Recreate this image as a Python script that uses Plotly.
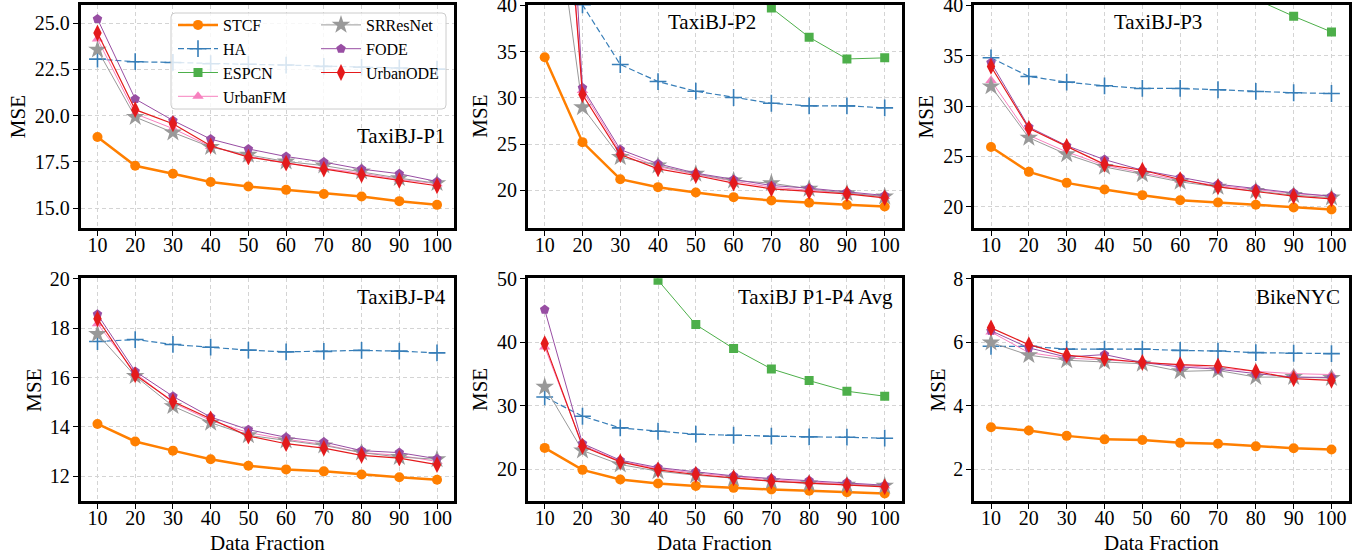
import plotly.graph_objects as go

W, H = 1369, 559
FONT = "Liberation Serif, Times New Roman, serif"

fractions = [10, 20, 30, 40, 50, 60, 70, 80, 90, 100]
methods = ["STCF", "HA", "ESPCN", "UrbanFM", "SRResNet", "FODE", "UrbanODE"]

# ---- TaxiBJ-P1 ----
p1_stcf = [18.84, 17.29, 16.86, 16.41, 16.17, 15.99, 15.77, 15.63, 15.38, 15.18]
p1_ha = [23.05, 22.91, 22.87, 22.80, 22.77, 22.73, 22.66, 22.62, 22.57, 22.51]
p1_espcn = [110, 80, 60, 47, 40, 36, 33, 32, 31, 30]
p1_urbanfm = [24.14, 20.10, 19.30, 18.33, 17.80, 17.44, 17.16, 16.89, 16.56, 16.32]
p1_srresnet = [23.56, 19.92, 19.09, 18.30, 17.88, 17.52, 17.30, 16.98, 16.62, 16.35]
p1_fode = [25.22, 20.90, 19.74, 18.73, 18.20, 17.79, 17.49, 17.11, 16.86, 16.44]
p1_urbanode = [24.46, 20.32, 19.56, 18.37, 17.76, 17.43, 17.11, 16.80, 16.50, 16.21]

# ---- TaxiBJ-P2 ----
p2_stcf = [34.39, 25.22, 21.22, 20.36, 19.78, 19.28, 18.92, 18.67, 18.45, 18.27]
p2_ha = [50.0, 40.05, 33.60, 31.76, 30.72, 30.04, 29.42, 29.14, 29.14, 28.92]
p2_espcn = [130, 90, 70, 55, 47, 42.5, 39.71, 36.55, 34.20, 34.32]
p2_urbanfm = [82, 30.80, 24.14, 22.59, 21.73, 21.00, 20.36, 20.07, 19.71, 19.35]
p2_srresnet = [59, 28.99, 23.60, 22.70, 21.80, 21.08, 20.79, 20.18, 19.71, 19.35]
p2_fode = [103, 31.08, 24.42, 22.88, 21.87, 21.19, 20.54, 20.25, 19.82, 19.46]
p2_urbanode = [83, 30.36, 23.88, 22.34, 21.62, 20.79, 20.18, 19.89, 19.64, 19.21]

# ---- TaxiBJ-P3 ----
p3_stcf = [25.94, 23.47, 22.38, 21.72, 21.16, 20.66, 20.43, 20.20, 19.93, 19.74]
p3_ha = [34.79, 32.94, 32.38, 32.01, 31.75, 31.75, 31.62, 31.45, 31.32, 31.25]
p3_espcn = [140, 95, 72, 57, 50, 46, 43, 40.6, 38.91, 37.36]
p3_urbanfm = [32.54, 27.10, 25.45, 24.13, 23.37, 22.64, 22.11, 21.72, 21.32, 21.06]
p3_srresnet = [31.95, 26.86, 25.21, 23.96, 23.23, 22.48, 21.98, 21.58, 21.16, 20.92]
p3_fode = [34.32, 27.92, 26.07, 24.69, 23.63, 22.90, 22.24, 21.82, 21.39, 21.06]
p3_urbanode = [33.93, 27.79, 26.00, 24.22, 23.63, 22.71, 21.98, 21.49, 21.06, 20.79]

# ---- TaxiBJ-P4 ----
p4_stcf = [14.12, 13.41, 13.04, 12.69, 12.43, 12.28, 12.20, 12.07, 11.96, 11.86]
p4_ha = [17.46, 17.54, 17.34, 17.23, 17.11, 17.04, 17.06, 17.10, 17.07, 17.00]
p4_espcn = [90, 65, 50, 40, 34, 31.5, 27.5, 27, 25.1, 24.3]
p4_urbanfm = [18.18, 16.19, 14.98, 14.26, 13.77, 13.50, 13.29, 12.96, 12.85, 12.60]
p4_srresnet = [17.76, 16.06, 14.84, 14.17, 13.66, 13.45, 13.25, 12.96, 12.78, 12.69]
p4_fode = [18.56, 16.25, 15.24, 14.40, 13.89, 13.58, 13.39, 13.04, 12.96, 12.71]
p4_urbanode = [18.38, 16.11, 15.03, 14.33, 13.63, 13.32, 13.14, 12.85, 12.74, 12.47]

# ---- TaxiBJ P1-P4 average ----
avg_stcf = [23.36, 19.90, 18.38, 17.75, 17.38, 17.07, 16.81, 16.60, 16.39, 16.18]
avg_ha = [31.38, 28.34, 26.51, 25.98, 25.51, 25.35, 25.20, 25.09, 25.04, 24.88]
avg_espcn = [117.5, 82.5, 63, 49.74, 42.76, 38.99, 35.79, 33.95, 32.28, 31.49]
avg_urbanfm = [39.25, 23.78, 21.26, 20.10, 19.38, 18.80, 18.33, 18.01, 17.70, 17.38]
avg_srresnet = [32.96, 22.94, 20.74, 19.69, 19.06, 18.54, 18.12, 17.75, 17.54, 17.38]
avg_fode = [45.12, 24.04, 21.42, 20.27, 19.59, 18.96, 18.54, 18.22, 17.91, 17.49]
avg_urbanode = [39.77, 23.62, 21.16, 19.90, 19.17, 18.64, 18.12, 17.80, 17.49, 17.23]

# ---- BikeNYC ----
bike_stcf = [3.32, 3.22, 3.05, 2.94, 2.92, 2.83, 2.80, 2.72, 2.66, 2.62]
bike_ha = [5.87, 5.87, 5.78, 5.78, 5.78, 5.74, 5.72, 5.67, 5.65, 5.64]
bike_espcn = [12, 10.5, 9.8, 9.4, 9.1, 8.9, 8.8, 8.7, 8.6, 8.5]
bike_urbanfm = [6.32, 5.67, 5.50, 5.43, 5.38, 5.27, 5.19, 5.08, 5.01, 4.98]
bike_srresnet = [5.99, 5.59, 5.43, 5.38, 5.32, 5.08, 5.11, 4.90, 4.90, 4.87]
bike_fode = [6.36, 5.82, 5.53, 5.61, 5.36, 5.22, 5.15, 5.01, 4.90, 4.89]
bike_urbanode = [6.45, 5.92, 5.59, 5.48, 5.36, 5.29, 5.25, 5.08, 4.85, 4.80]

panel_names = ["TaxiBJ-P1", "TaxiBJ-P2", "TaxiBJ-P3", "TaxiBJ-P4", "TaxiBJ P1-P4 Avg", "BikeNYC"]
panel_series = [
    [p1_stcf, p1_ha, p1_espcn, p1_urbanfm, p1_srresnet, p1_fode, p1_urbanode],
    [p2_stcf, p2_ha, p2_espcn, p2_urbanfm, p2_srresnet, p2_fode, p2_urbanode],
    [p3_stcf, p3_ha, p3_espcn, p3_urbanfm, p3_srresnet, p3_fode, p3_urbanode],
    [p4_stcf, p4_ha, p4_espcn, p4_urbanfm, p4_srresnet, p4_fode, p4_urbanode],
    [avg_stcf, avg_ha, avg_espcn, avg_urbanfm, avg_srresnet, avg_fode, avg_urbanode],
    [bike_stcf, bike_ha, bike_espcn, bike_urbanfm, bike_srresnet, bike_fode, bike_urbanode],
]
y_ranges = [[13.93, 26.0], [15.95, 40.08], [17.9, 40.08], [11.0, 20.02], [15.0, 50.05], [1.0, 8.01]]
y_ticks = [
    [15.0, 17.5, 20.0, 22.5, 25.0],
    [20, 25, 30, 35, 40],
    [20, 25, 30, 35, 40],
    [12, 14, 16, 18, 20],
    [20, 30, 40, 50],
    [2, 4, 6, 8],
]
y_fmt = [".1f", "d", "d", "d", "d", "d"]

# line / marker appearance for each method
styles = {
    "STCF": dict(color="#ff7f00", width=2.5, dash="solid", symbol="circle", size=10),
    "HA": dict(color="#377eb8", width=1.2, dash="6px,3px", symbol="cross-thin", size=12),
    "ESPCN": dict(color="#4daf4a", width=1.0, dash="solid", symbol="square", size=9),
    "UrbanFM": dict(color="#f781bf", width=1.0, dash="solid", symbol="triangle-up", size=10),
    "SRResNet": dict(color="#999999", width=1.0, dash="solid", symbol="star", size=14),
    "FODE": dict(color="#984ea3", width=1.0, dash="solid", symbol="pentagon", size=10),
    "UrbanODE": dict(color="#e41a1c", width=1.2, dash="solid", symbol="diamond-tall", size=12),
}


def px_x(p):
    return p / W


def px_y(p):
    return 1 - p / H


# plot-area boxes in pixels: (left, right, top, bottom)
boxes = [
    (80.5, 454.0, 4.5, 228.0),
    (527.7, 901.7, 4.5, 228.0),
    (974.0, 1348.5, 4.5, 228.0),
    (80.5, 454.0, 278.3, 501.0),
    (527.7, 901.7, 278.3, 501.0),
    (974.0, 1348.5, 278.3, 501.0),
]

fig = go.Figure()

for i, series in enumerate(panel_series):
    n = i + 1
    xa = "x" if n == 1 else f"x{n}"
    ya = "y" if n == 1 else f"y{n}"
    for m, vals in zip(methods, series):
        st = styles[m]
        marker = dict(symbol=st["symbol"], size=st["size"], color=st["color"])
        if st["symbol"] == "cross-thin":
            marker["line"] = dict(width=1.6, color=st["color"])
        else:
            marker["line"] = dict(width=0)
        fig.add_trace(go.Scatter(
            x=fractions, y=vals, name=m, mode="lines+markers",
            line=dict(color=st["color"], width=st["width"], dash=st["dash"]),
            marker=marker, xaxis=xa, yaxis=ya,
            showlegend=(n == 1),
            legend="legend" if methods.index(m) < 4 else "legend2",
        ))

    l, r, t, b = boxes[i]
    axis_common = dict(
        showline=True, linecolor="black", linewidth=2.5, mirror=True,
        ticks="outside", ticklen=5, tickwidth=1.2, tickcolor="black",
        showgrid=True, gridcolor="#d4d4d4", griddash="4px,3px", gridwidth=1,
        zeroline=False, automargin=False, ticklabeloverflow="allow",
        tickfont=dict(family=FONT, size=20, color="black"),
    )
    fig.layout[f"xaxis{'' if n == 1 else n}"] = dict(
        domain=[px_x(l), px_x(r)], anchor=ya, range=[5.5, 104.5],
        tickvals=fractions, ticktext=[str(v) for v in fractions],
        ticklabelstandoff=-8, **axis_common,
    )
    fig.layout[f"yaxis{'' if n == 1 else n}"] = dict(
        domain=[px_y(b), px_y(t)], anchor=xa, range=y_ranges[i],
        tickvals=y_ticks[i], tickformat=y_fmt[i],
        ticklabelstandoff=-1, **axis_common,
    )

annotations = []
# panel names
name_pos = [
    (446.7, 135.5, "right"),
    (711.7, 22.0, "center"),
    (1158.0, 22.0, "center"),
    (448.3, 297.0, "right"),
    (895.0, 297.0, "right"),
    (1341.7, 297.0, "right"),
]
for name, (x, y, anc) in zip(panel_names, name_pos):
    annotations.append(dict(
        x=px_x(x), y=px_y(y), xref="paper", yref="paper", text=name,
        showarrow=False, xanchor=anc, yanchor="middle",
        font=dict(family=FONT, size=21, color="black"),
    ))
# y-axis titles
mse_pos = [(17.5, 116.7), (480.0, 116.7), (925.7, 116.7), (33.7, 390.0), (480.0, 390.0), (937.5, 390.0)]
for x, y in mse_pos:
    annotations.append(dict(
        x=px_x(x), y=px_y(y), xref="paper", yref="paper", text="MSE",
        showarrow=False, xanchor="center", yanchor="middle", textangle=-90,
        font=dict(family=FONT, size=21, color="black"),
    ))
# x-axis titles on the bottom row
for l, r, t, b in boxes[3:]:
    annotations.append(dict(
        x=px_x((l + r) / 2), y=px_y(543.0), xref="paper", yref="paper",
        text="Data Fraction", showarrow=False, xanchor="center", yanchor="middle",
        font=dict(family=FONT, size=21, color="black"),
    ))

# legend frame (rounded, translucent white)
lx0, lx1, ly0, ly1 = px_x(171), px_x(446), px_y(109), px_y(13)
rx, ry = 4 / W, 4 / H
frame_path = (
    f"M{lx0 + rx},{ly1} L{lx1 - rx},{ly1} Q{lx1},{ly1} {lx1},{ly1 - ry} "
    f"L{lx1},{ly0 + ry} Q{lx1},{ly0} {lx1 - rx},{ly0} "
    f"L{lx0 + rx},{ly0} Q{lx0},{ly0} {lx0},{ly0 + ry} "
    f"L{lx0},{ly1 - ry} Q{lx0},{ly1} {lx0 + rx},{ly1} Z"
)

legend_common = dict(
    xanchor="left", yanchor="top", bgcolor="rgba(0,0,0,0)", borderwidth=0,
    font=dict(family=FONT, size=16, color="black"), tracegroupgap=0,
    orientation="v", itemwidth=40,
)

fig.update_layout(
    width=W, height=H, autosize=False,
    margin=dict(l=0, r=0, t=0, b=0, pad=0, autoexpand=False),
    paper_bgcolor="white", plot_bgcolor="white",
    font=dict(family=FONT, color="black"),
    annotations=annotations,
    shapes=[dict(type="path", path=frame_path, xref="paper", yref="paper",
                 fillcolor="rgba(255,255,255,0.8)",
                 line=dict(color="#cccccc", width=1), layer="above")],
    legend=dict(x=px_x(173), y=px_y(8), **legend_common),
    legend2=dict(x=px_x(316), y=px_y(8), **legend_common),
)

# the page body gets no default margin so the figure sits at the window origin
fig.write_html("out.html", post_script="document.body.style.margin='0px';")
